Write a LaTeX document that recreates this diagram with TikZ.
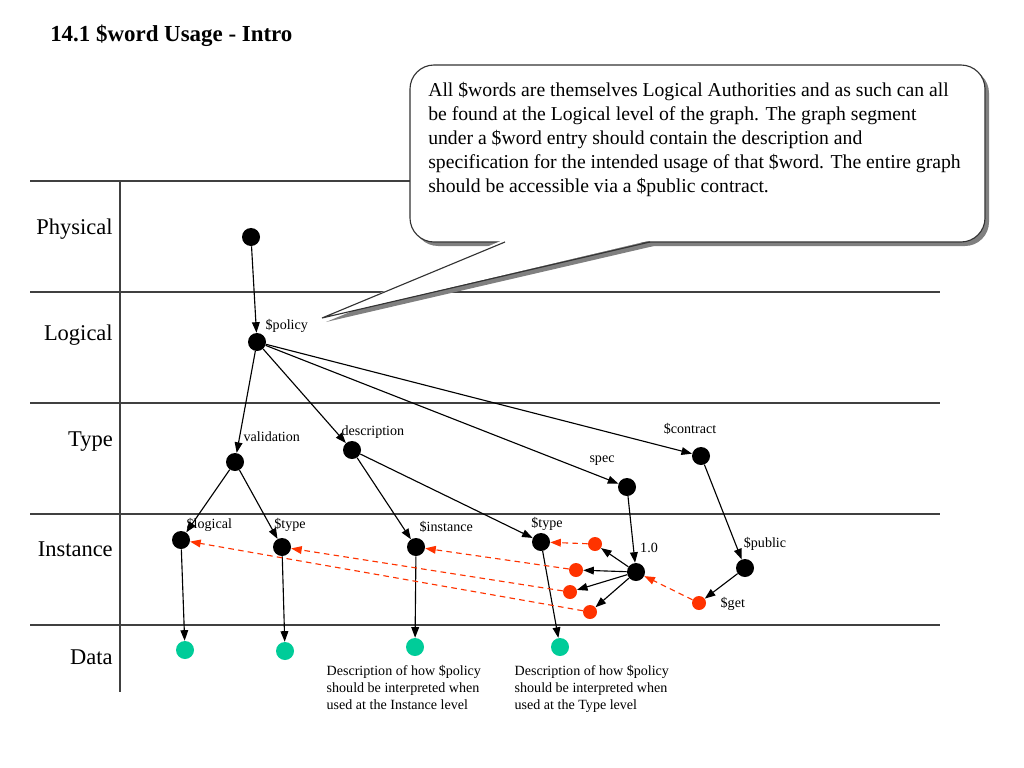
\documentclass[tikz,border=0pt]{standalone}
\usepackage{fontspec}
\setmainfont{Liberation Serif}
\usetikzlibrary{arrows.meta}
\definecolor{dotred}{HTML}{FF3300}
\definecolor{dotgreen}{HTML}{00CC99}
\tikzset{
  dot/.style={circle, fill=black, inner sep=0pt, minimum size=0.45cm},
  reddot/.style={circle, fill=dotred, inner sep=0pt, minimum size=0.35cm},
  datadot/.style={circle, fill=dotgreen, inner sep=0pt, minimum size=0.45cm},
  lbl/.style={font=\fontsize{10}{12}\selectfont, inner sep=1pt},
  layer/.style={font=\fontsize{16}{19}\selectfont, anchor=east, inner sep=0pt},
  edge/.style={-{Triangle[length=7.5pt,width=5.5pt]}, line width=0.8pt},
  ref/.style={edge, dotred, dash pattern=on 4pt off 3pt},
  grid/.style={line width=0.8pt, black!75}
}
\begin{document}
\begin{tikzpicture}[x=0.025cm, y=-0.025cm]
\useasboundingbox (0,0) rectangle (1024,768);
\node[anchor=west, inner sep=0pt, font=\fontsize{16.3}{19}\bfseries] (title) at (50,36) {14.1 \$word Usage - Intro};

% layers
\foreach \yy in {181,292,403,514,625}
  \draw[grid] (30,\yy) -- (940,\yy);
\draw[grid] (120,181) -- (120,692);
\node[layer] (physical) at (113,229) {Physical};
\node[layer] (logical) at (113,335) {Logical};
\node[layer] (type) at (113,442) {Type};
\node[layer] (instance) at (113,549) {Instance};
\node[layer] (data) at (113,657) {Data};

% callout
\fill[black!50, rounded corners=0.6cm] (414,69) rectangle (989,246);
\fill[black!50] (509,246) -- (326,322) -- (654,246) -- cycle;
\fill[white, draw=black!80, line width=0.8pt, rounded corners=0.6cm] (410,65) rectangle (985,242);
\fill[white] (503,240) -- (322,318) -- (652,240) -- cycle;
\draw[black!80, line width=0.8pt] (505,242) -- (322,318) -- (650,242);
\node[anchor=north west, inner sep=0pt, align=left, font=\fontsize{14}{17}\selectfont] (note) at (428,82)
  {All \$words are themselves Logical Authorities and as such can all\\
   be found at the Logical level of the graph. The graph segment\\
   under a \$word entry should contain the description and\\
   specification for the intended usage of that \$word. The entire graph\\
   should be accessible via a \$public contract.};

% nodes
\node[dot] (phys) at (251,237) {};
\node[dot] (policy) at (257,342) {};
\node[dot] (valid) at (235,462) {};
\node[dot] (descr) at (352,450) {};
\node[dot] (spec) at (627,487) {};
\node[dot] (contract) at (701,456) {};
\node[dot] (slogical) at (181,540) {};
\node[dot] (stype) at (282,547) {};
\node[dot] (sinst) at (416,547) {};
\node[dot] (stypeb) at (541,542) {};
\node[dot] (ver) at (636,572) {};
\node[dot] (public) at (745,568) {};
\node[reddot] (ra) at (595,544) {};
\node[reddot] (rb) at (576,570) {};
\node[reddot] (rc) at (570,592) {};
\node[reddot] (rd) at (590,612) {};
\node[reddot] (get) at (699,603) {};
\node[datadot] (da) at (185,650) {};
\node[datadot] (db) at (285,651) {};
\node[datadot] (dc) at (415,647) {};
\node[datadot] (dd) at (560,647) {};

% labels
\node[lbl, anchor=west] (lpolicy) at (264,326) {\$policy};
\node[lbl, anchor=west] (lvalid) at (242,437) {validation};
\node[lbl, anchor=west] (ldescr) at (340,432) {description};
\node[lbl] (lspec) at (602,461) {spec};
\node[lbl] (lcontract) at (690,429) {\$contract};
\node[lbl, anchor=west] (llogical) at (185,525) {\$logical};
\node[lbl] (ltype) at (290,525) {\$type};
\node[lbl, anchor=west] (linst) at (418,527) {\$instance};
\node[lbl] (ltypeb) at (547,524) {\$type};
\node[lbl] (lver) at (649,548) {1.0};
\node[lbl] (lpublic) at (765,544) {\$public};
\node[lbl, anchor=west] (lget) at (719,604) {\$get};
\node[lbl, anchor=north west, align=left] (tinst) at (325,664)
  {Description of how \$policy\\should be interpreted when\\used at the Instance level};
\node[lbl, anchor=north west, align=left] (ttype) at (513,664)
  {Description of how \$policy\\should be interpreted when\\used at the Type level};

% edges
\draw[edge] (phys) -- (policy);
\draw[edge] (policy) -- (valid);
\draw[edge] (policy) -- (descr);
\draw[edge] (policy) -- (spec);
\draw[edge] (policy) -- (contract);
\draw[edge] (valid) -- (slogical);
\draw[edge] (valid) -- (stype);
\draw[edge] (descr) -- (sinst);
\draw[edge] (descr) -- (stypeb);
\draw[edge] (spec) -- (ver);
\draw[edge] (contract) -- (public);
\draw[edge] (public) -- (get);
\foreach \r in {ra,rb,rc,rd}
  \draw[edge] (ver) -- (\r);
\draw[edge] (slogical) -- (da);
\draw[edge] (stype) -- (db);
\draw[edge] (sinst) -- (dc);
\draw[edge] (stypeb) -- (dd);
\draw[ref] (ra) -- (stypeb);
\draw[ref] (rb) -- (sinst);
\draw[ref] (rc) -- (stype);
\draw[ref] (rd) -- (slogical);
\draw[ref] (get) -- (ver);
\end{tikzpicture}
\end{document}
